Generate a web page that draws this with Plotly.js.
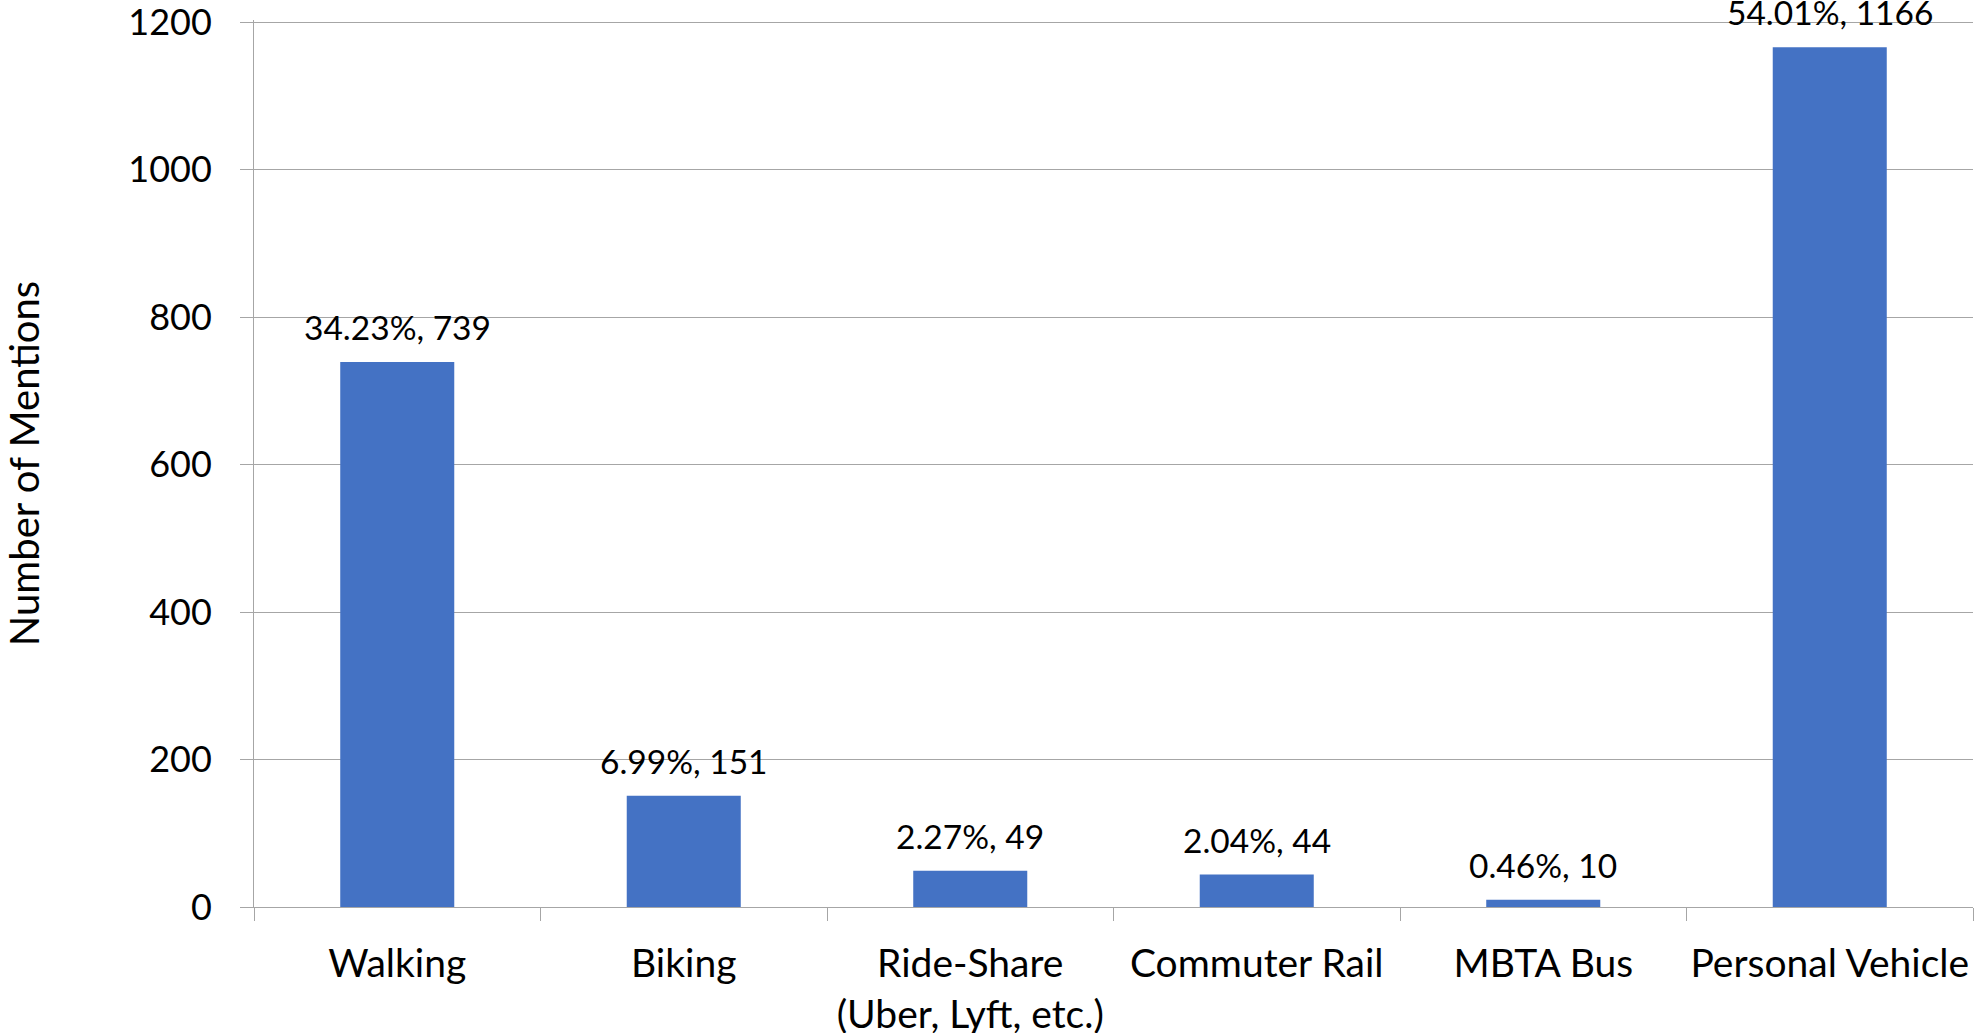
<!DOCTYPE html>
<html>
<head>
<meta charset="utf-8">
<script src="https://cdn.plot.ly/plotly-3.0.1.min.js"></script>
<style>html,body{margin:0;padding:0;background:#fff;}#chart{width:1978px;height:1033px;}</style>
</head>
<body>
<div id="chart"></div>
<script>
const categories = ["Walking", "Biking", "Ride-Share<br>(Uber, Lyft, etc.)", "Commuter Rail", "MBTA Bus", "Personal Vehicle"];
const mentions = [739, 151, 49, 44, 10, 1166];
const percents = ["34.23%", "6.99%", "2.27%", "2.04%", "0.46%", "54.01%"];
const yTicks = [0, 200, 400, 600, 800, 1000, 1200];

const FONT = "Lato, 'Open Sans', sans-serif";
const GRID = "#a6a6a6";

const trace = {
  type: "bar",
  x: categories,
  y: mentions,
  marker: {color: "#4472c4"},
  hoverinfo: "skip"
};

const annotations = categories.map((c, i) => ({
  x: c, y: mentions[i], xref: "x", yref: "y",
  text: percents[i] + ", " + mentions[i],
  showarrow: false, yanchor: "bottom", yshift: 13,
  font: {family: FONT, size: 33.5, color: "#000"}
}));

const layout = {
  width: 1978, height: 1033,
  margin: {l: 254, r: 5, t: 20, b: 126, pad: 0},
  paper_bgcolor: "#fff", plot_bgcolor: "#fff",
  bargap: 0.602,
  showlegend: false,
  font: {family: FONT, color: "#000"},
  xaxis: {
    type: "category",
    tickson: "boundaries",
    tickangle: 0,
    ticks: "outside", ticklen: 13, tickwidth: 1, tickcolor: GRID,
    showline: true, linecolor: GRID, linewidth: 1,
    showgrid: false, zeroline: false,
    tickfont: {family: FONT, size: 39, color: "#000"},
    ticklabelstandoff: 22,
    fixedrange: true
  },
  yaxis: {
    range: [0, 1203],
    tickvals: yTicks,
    ticktext: yTicks.map(String),
    ticklabeloverflow: "allow",
    ticks: "outside", ticklen: 13, tickwidth: 1, tickcolor: GRID,
    showline: true, linecolor: GRID, linewidth: 1,
    showgrid: true, gridcolor: GRID, gridwidth: 1,
    zeroline: false,
    tickfont: {family: FONT, size: 36, color: "#000"},
    ticklabelstandoff: 21,
    title: {text: "Number of Mentions", font: {family: FONT, size: 40, color: "#000"}, standoff: 77},
    fixedrange: true
  },
  annotations: annotations
};

Plotly.newPlot("chart", [trace], layout, {staticPlot: true, displayModeBar: false});
</script>
</body>
</html>
